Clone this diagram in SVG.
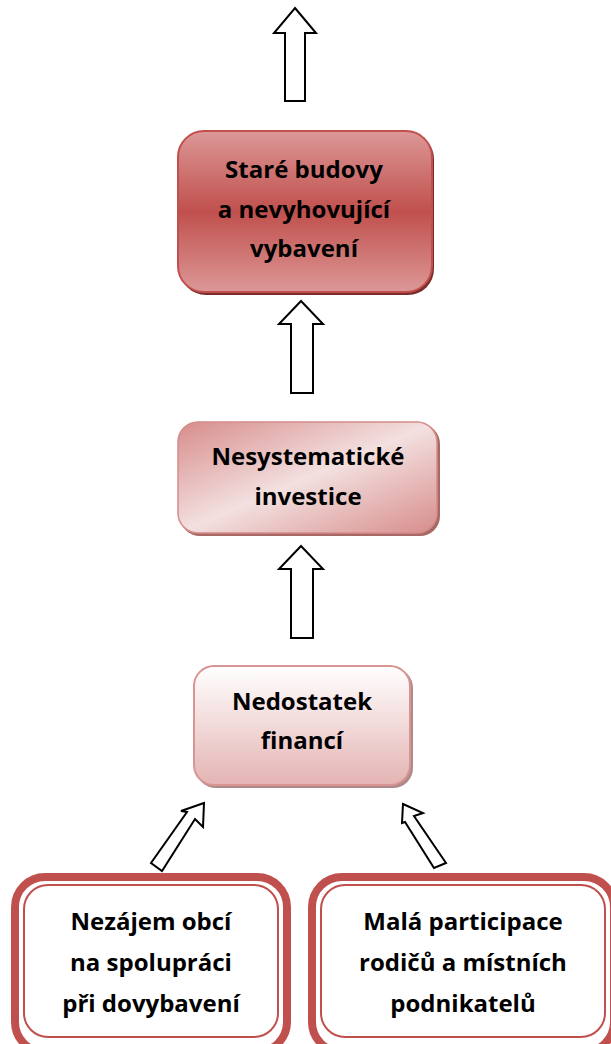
<svg xmlns="http://www.w3.org/2000/svg" width="611" height="1044" viewBox="0 0 611 1044">
<defs>
<linearGradient id="g1" x1="0" y1="0" x2="0" y2="1">
<stop offset="0" stop-color="#dc9897"/>
<stop offset="0.5" stop-color="#c0504d"/>
<stop offset="1" stop-color="#dc9897"/>
</linearGradient>
<linearGradient id="g2" x1="0" y1="0" x2="1" y2="1">
<stop offset="0" stop-color="#d78d8b"/>
<stop offset="0.5" stop-color="#f3e0e0"/>
<stop offset="1" stop-color="#d78d8b"/>
</linearGradient>
<linearGradient id="g3" x1="0" y1="0" x2="0" y2="1">
<stop offset="0" stop-color="#ffffff"/>
<stop offset="1" stop-color="#e4b4b3"/>
</linearGradient>
<style>
.t{font-family:"Open Sans","Liberation Sans",sans-serif;font-weight:bold;font-size:24px;fill:#000;text-anchor:middle}
.arr{fill:#fff;stroke:#000;stroke-width:2;stroke-linejoin:miter}
.thick{fill:#fff;stroke:#c0504d;stroke-width:8}
.thin{fill:none;stroke:#c0504d;stroke-width:2}
</style>
</defs>
<g id="connectors">
<polygon class="arr" points="295,8 316,33 305,33 305,101 285,101 285,33 274,33"/>
<polygon class="arr" points="301,301 323,324 313,324 313,393 291,393 291,324 279,324"/>
<polygon class="arr" points="301,546 323,569 313,569 313,638 291,638 291,569 279,569"/>
<polygon class="arr" points="204,803 203,827 195,819 162,871 151,863 187,812 181,811"/>
<polygon class="arr" points="403,804 423,813 414,816 446,863 434,868 405,822 402,823"/>
</g>
<g id="node-stare">
<rect x="180" y="133" width="254" height="162" rx="26" fill="#7b2c2a"/>
<rect x="178" y="131" width="254" height="161" rx="26" fill="url(#g1)" stroke="#c0504d" stroke-width="2"/>
<text class="t" x="304" y="178">Staré budovy</text>
<text class="t" x="304" y="218">a nevyhovující</text>
<text class="t" x="304" y="257">vybavení</text>
</g>
<g id="node-nesys">
<rect x="180" y="424" width="260" height="112" rx="20" fill="#a86866"/>
<rect x="178" y="422" width="259" height="111" rx="20" fill="url(#g2)" stroke="#d58c8a" stroke-width="1.5"/>
<text class="t" x="308" y="465">Nesystematické</text>
<text class="t" x="308" y="505">investice</text>
</g>
<g id="node-nedost">
<rect x="196" y="668" width="217" height="120" rx="20" fill="#b08a89"/>
<rect x="194" y="666" width="216" height="119" rx="20" fill="url(#g3)" stroke="#d99594" stroke-width="2"/>
<text class="t" x="302" y="710">Nedostatek</text>
<text class="t" x="302" y="749">financí</text>
</g>
<g id="node-nezajem">
<rect class="thick" x="15" y="877" width="272" height="175" rx="30"/>
<rect class="thin" x="24" y="885" width="254" height="152" rx="24"/>
<text class="t" x="151" y="930">Nezájem obcí</text>
<text class="t" x="151" y="971">na spolupráci</text>
<text class="t" x="151" y="1012">při dovybavení</text>
</g>
<g id="node-mala">
<rect class="thick" x="312" y="877" width="302" height="175" rx="30"/>
<rect class="thin" x="321" y="885" width="284" height="152" rx="24"/>
<text class="t" x="463" y="930">Malá participace</text>
<text class="t" x="463" y="971">rodičů a místních</text>
<text class="t" x="463" y="1012">podnikatelů</text>
</g>
</svg>
